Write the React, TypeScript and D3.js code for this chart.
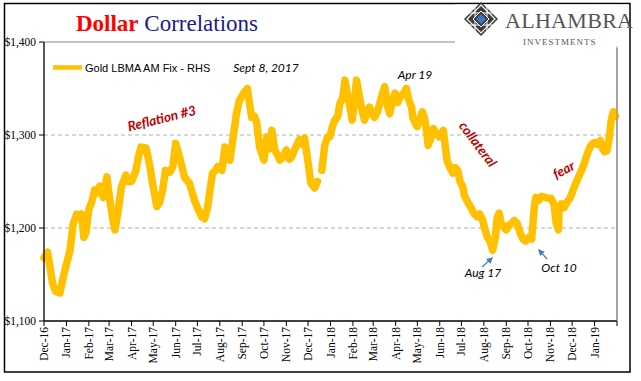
import React from "react";
import * as d3 from "d3";

const dates: string[] = [
  "2016-12-01","2016-12-06","2016-12-13","2016-12-17","2016-12-23","2016-12-27","2016-12-31",
  "2017-01-06","2017-01-10","2017-01-15","2017-01-19","2017-01-22","2017-01-25","2017-01-28",
  "2017-02-01","2017-02-05","2017-02-09","2017-02-13","2017-02-16","2017-02-21","2017-02-26",
  "2017-03-02","2017-03-06","2017-03-09","2017-03-13","2017-03-18","2017-03-24","2017-03-28",
  "2017-04-01","2017-04-07","2017-04-11","2017-04-14","2017-04-21","2017-04-26","2017-04-30",
  "2017-05-06","2017-05-10","2017-05-14","2017-05-18","2017-05-24","2017-05-28",
  "2017-06-01","2017-06-05","2017-06-09","2017-06-13","2017-06-20","2017-06-27",
  "2017-07-01","2017-07-07","2017-07-11","2017-07-15","2017-07-18","2017-07-22","2017-07-26","2017-07-29",
  "2017-08-04","2017-08-08","2017-08-12","2017-08-15","2017-08-19","2017-08-24","2017-08-28",
  "2017-09-03","2017-09-08","2017-09-11","2017-09-14","2017-09-18","2017-09-21","2017-09-25","2017-09-28",
  "2017-10-01","2017-10-05","2017-10-08","2017-10-12","2017-10-16","2017-10-20","2017-10-23","2017-10-27",
  "2017-11-01","2017-11-05","2017-11-08","2017-11-14","2017-11-19","2017-11-23","2017-11-26","2017-11-30",
  "2017-12-05","2017-12-10","2017-12-14","2017-12-17","2017-12-20","2017-12-24","2017-12-28","2017-12-31",
  "2018-01-04","2018-01-07","2018-01-11","2018-01-14","2018-01-18","2018-01-21","2018-01-25","2018-01-28","2018-01-31",
  "2018-02-03","2018-02-06","2018-02-10","2018-02-14","2018-02-17","2018-02-21","2018-02-24","2018-02-28",
  "2018-03-03","2018-03-07","2018-03-10","2018-03-14","2018-03-17","2018-03-21","2018-03-24","2018-03-28","2018-03-31",
  "2018-04-04","2018-04-07","2018-04-12","2018-04-16","2018-04-19","2018-04-23","2018-04-25","2018-04-28",
  "2018-05-01","2018-05-05","2018-05-08","2018-05-11","2018-05-13","2018-05-16","2018-05-19","2018-05-23","2018-05-27","2018-05-31",
  "2018-06-02","2018-06-06","2018-06-11","2018-06-15","2018-06-19","2018-06-22","2018-06-26","2018-06-29",
  "2018-07-03","2018-07-05","2018-07-10","2018-07-12","2018-07-16","2018-07-19","2018-07-23","2018-07-26","2018-07-30",
  "2018-08-02","2018-08-06","2018-08-10","2018-08-13","2018-08-17","2018-08-19","2018-08-22","2018-08-25","2018-08-29",
  "2018-09-01","2018-09-05","2018-09-08","2018-09-12","2018-09-16","2018-09-20","2018-09-24","2018-09-28",
  "2018-10-02","2018-10-06","2018-10-10","2018-10-12","2018-10-16","2018-10-20","2018-10-25","2018-10-29",
  "2018-11-02","2018-11-06","2018-11-09","2018-11-12","2018-11-13","2018-11-16","2018-11-20","2018-11-24","2018-11-28",
  "2018-12-02","2018-12-06","2018-12-10","2018-12-14","2018-12-18","2018-12-22","2018-12-25","2018-12-28",
  "2019-01-01","2019-01-05","2019-01-09","2019-01-12","2019-01-15","2019-01-18","2019-01-21","2019-01-24","2019-01-27","2019-01-30","2019-01-31",
];

const gold: (number | null)[] = [
  1168,1174,1140,1132,1130,1145,1158,
  1176,1203,1215,1212,1215,1190,1195,
  1220,1228,1241,1238,1245,1233,1255,
  1230,1210,1198,1216,1244,1257,1250,
  1250,1262,1278,1287,1286,1268,1248,
  1223,1228,1241,1262,1260,1266,
  1291,1280,1268,1255,1248,1230,
  1222,1212,1210,1222,1238,1259,1262,1266,
  1262,1287,1275,1273,1295,1323,1337,
  1345,1350,1334,1319,1320,1313,1287,1280,
  1273,1298,1285,1305,1284,1278,1273,1276,
  1284,1274,1276,1287,1295,1290,1297,1276,
  1248,1243,1250,null,1262,1289,1298,1298,
  1310,1316,1320,1334,1340,1359,1341,1330,1316,
  1335,1359,1341,1325,1316,1325,1330,1322,
  1319,1325,1334,1345,1352,1330,1323,1338,1345,
  1335,1341,1345,1350,1338,1330,1318,
  1313,1309,1318,1325,1318,1309,1289,1295,1307,1302,
  1298,1300,1305,1273,1265,1259,1265,1262,
  1250,1244,1235,1227,1225,1219,1215,1212,1215,
  1209,1200,1190,1185,1176,1190,1210,1216,1205,
  1200,1198,1203,1205,1208,1205,1195,1188,
  1186,1190,1188,1225,1233,1230,1234,1233,
  1232,1232,1225,1205,1198,1218,1226,1222,1228,
  1232,1240,1248,1255,1262,1270,1280,1286,
  1290,1292,1290,1294,1285,1282,1283,1295,1316,1325,1320,
];

const yTicks: number[] = [1100, 1200, 1300, 1400];
const gridTicks: number[] = [1200, 1300];

const W = 641, H = 381;
const left = 44, right = 617, top = 42, bottom = 321;

export default function App() {
  const parse = d3.timeParse("%Y-%m-%d");
  const x = d3.scaleTime()
    .domain([parse("2016-12-01")!, parse("2019-02-01")!])
    .range([left, right]);
  const y = d3.scaleLinear().domain([1100, 1400]).range([bottom, top]);
  const data = dates.map((d, i) => ({ d: parse(d)!, v: gold[i] }));
  const line = d3.line<{ d: Date; v: number | null }>()
    .defined((p) => p.v != null)
    .x((p) => x(p.d))
    .y((p) => y(p.v as number))
    .curve(d3.curveLinear);
  const months = x.ticks(d3.timeMonth.every(1)!);
  const fmt = d3.timeFormat("%b-%y");
  const serif = "'Liberation Serif', 'Times New Roman', serif";
  const sans = "'Liberation Sans', Arial, sans-serif";
  const cal = "Lato, 'Open Sans', sans-serif";

  const lx = 481, ly = 19, r = 17;
  const dia = (s: number) => `M${lx},${ly - s} L${lx + s},${ly} L${lx},${ly + s} L${lx - s},${ly} Z`;

  return (
    <svg width={W} height={H} style={{ position: "absolute", left: 0, top: 0, background: "#fff" }}>
      <rect x={0} y={0} width={W} height={H} fill="#fff" />
      <rect x={4.5} y={3.5} width={625.5} height={368.5} fill="none" stroke="#000" strokeWidth={1.5} />

      {gridTicks.map((t) => (
        <line key={t} x1={left} x2={right} y1={y(t)} y2={y(t)} stroke="#b0b0b0" strokeWidth={1} strokeDasharray="4,3" />
      ))}
      <line x1={left} x2={right} y1={y(1400)} y2={y(1400)} stroke="#888" strokeWidth={1} />
      <line x1={right} x2={right} y1={top} y2={bottom} stroke="#888" strokeWidth={1} />

      <path d={line(data) || ""} fill="none" stroke="#FFC000" strokeWidth={7.5} strokeLinejoin="round" strokeLinecap="round" />

      <line x1={left} x2={left} y1={top} y2={bottom} stroke="#000" strokeWidth={1.3} />
      <line x1={left} x2={right} y1={bottom} y2={bottom} stroke="#000" strokeWidth={1.3} />
      {yTicks.map((t) => (
        <g key={t}>
          <line x1={left - 5} x2={left} y1={y(t)} y2={y(t)} stroke="#000" strokeWidth={1} />
          <text x={36} y={y(t)} dy="0.35em" textAnchor="end" fontFamily={serif} fontSize={11.5} fill="#000">
            {d3.format("$,")(t)}
          </text>
        </g>
      ))}
      {months.map((m, i) => (
        <g key={i}>
          <line x1={x(m)} x2={x(m)} y1={bottom} y2={bottom + 5} stroke="#000" strokeWidth={1} />
          {i < months.length - 1 && (
            <text transform={`translate(${x(m)},${bottom + 6}) rotate(-90)`} dy="0.35em" textAnchor="end"
              fontFamily={serif} fontSize={11.5} fill="#000">{fmt(m)}</text>
          )}
        </g>
      ))}

      <text x={167} y={31} textAnchor="middle" fontFamily={serif} fontSize={23}>
        <tspan fill="#FF0000" fontWeight="bold">Dollar</tspan>
        <tspan fill="#1a1a8c"> Correlations</tspan>
      </text>

      <line x1={53} x2={82} y1={67.5} y2={67.5} stroke="#FFC000" strokeWidth={4.5} />
      <text x={85} y={72} fontFamily={sans} fontSize={11} fill="#000">Gold LBMA AM Fix - RHS</text>

      <text x={266} y={72} textAnchor="middle" fontFamily={cal} fontStyle="italic" fontSize={12} fill="#000">Sept 8, 2017</text>
      <text x={415} y={79} textAnchor="middle" fontFamily={cal} fontStyle="italic" fontSize={12} fill="#000">Apr 19</text>
      <text x={483} y={277} textAnchor="middle" fontFamily={cal} fontStyle="italic" fontSize={12} fill="#000">Aug 17</text>
      <text x={559} y={272} textAnchor="middle" fontFamily={cal} fontStyle="italic" fontSize={12} fill="#000">Oct 10</text>
      <text transform="translate(163,123) rotate(-14)" textAnchor="middle" fontFamily={cal} fontStyle="italic" fontWeight="bold" fontSize={13.5} fill="#C00000">Reflation #3</text>
      <text transform="translate(474,147) rotate(53)" textAnchor="middle" fontFamily={cal} fontStyle="italic" fontWeight="bold" fontSize={13.5} fill="#C00000">collateral</text>
      <text transform="translate(566,174) rotate(-28)" textAnchor="middle" fontFamily={cal} fontStyle="italic" fontWeight="bold" fontSize={13.5} fill="#C00000">fear</text>

      <defs>
        <marker id="ah" viewBox="0 0 10 10" refX={8} refY={5} markerWidth={5} markerHeight={5} orient="auto">
          <path d="M0,0 L10,5 L0,10 Z" fill="#4A7EBB" />
        </marker>
      </defs>
      <line x1={482} y1={267} x2={492} y2={258} stroke="#4A7EBB" strokeWidth={1.3} markerEnd="url(#ah)" />
      <line x1={547} y1={259} x2={539} y2={250} stroke="#4A7EBB" strokeWidth={1.3} markerEnd="url(#ah)" />

      <rect x={455} y={4.5} width={174} height={42} fill="#fff" />
      <path d={dia(r)} fill="#3c3c3c" />
      <path d={dia(r - 3)} fill="none" stroke="#fff" strokeWidth={1.2} />
      <path d={`M${lx - r + 4},${ly - 6} L${lx + r - 4},${ly - 6} M${lx - r + 4},${ly + 6} L${lx + r - 4},${ly + 6} M${lx - 6},${ly - r + 4} L${lx - 6},${ly + r - 4} M${lx + 6},${ly - r + 4} L${lx + 6},${ly + r - 4}`}
        stroke="#fff" strokeWidth={1} />
      <path d={dia(8)} fill="#3c3c3c" stroke="#fff" strokeWidth={1} />
      <path d={dia(5)} fill="#3F74C8" />
      <text x={505} y={28} fontFamily={serif} fontSize={22} fill="#555" letterSpacing={0.3}>ALHAMBRA</text>
      <text x={523} y={45} fontFamily={serif} fontSize={9} fill="#555" letterSpacing={1}>INVESTMENTS</text>
      <line x1={right} x2={right} y1={48} y2={bottom} stroke="#888" strokeWidth={1} />
    </svg>
  );
}
